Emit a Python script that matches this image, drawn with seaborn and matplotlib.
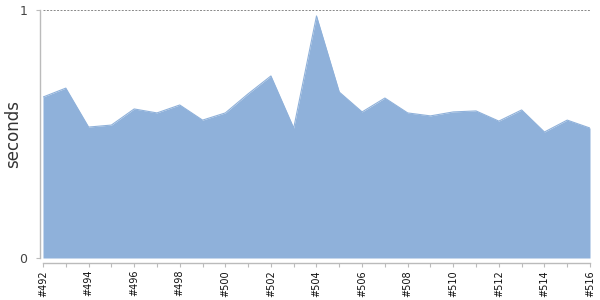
import matplotlib
matplotlib.use("Agg")
import matplotlib.pyplot as plt
import seaborn as sns
import numpy as np
import pandas as pd

builds = [492, 493, 494, 495, 496, 497, 498, 499, 500, 501, 502, 503, 504,
          505, 506, 507, 508, 509, 510, 511, 512, 513, 514, 515, 516]
seconds = [0.649, 0.685, 0.528, 0.536, 0.601, 0.585, 0.617, 0.556, 0.585,
           0.662, 0.734, 0.524, 0.976, 0.669, 0.589, 0.645, 0.585, 0.573,
           0.589, 0.593, 0.552, 0.597, 0.508, 0.556, 0.524]
y_ticks = [0, 1]

df = pd.DataFrame({"build": builds, "seconds": seconds})

sns.set_style("white")
plt.rcParams['font.family'] = ['DejaVu Sans']

fig = plt.figure(figsize=(6, 3), dpi=100)
ax = fig.add_axes([43/600, 1 - 258/300, (590 - 43)/600, (258 - 10)/300])

for s in ["top", "right"]:
    ax.spines[s].set_visible(False)
ax.spines["left"].set_position(("outward", 2.2))
ax.spines["bottom"].set_position(("outward", 3.6))
for s in ["left", "bottom"]:
    ax.spines[s].set_color("#bbbbbb")
    ax.spines[s].set_linewidth(1)

fill_color = "#8fb1da"
ax.fill_between(df["build"], 0, df["seconds"], color=fill_color, linewidth=0)
sns.lineplot(data=df, x="build", y="seconds", ax=ax, color=fill_color, linewidth=0.8)

ax.axhline(1, color="#888888", linestyle=(0, (2, 1.5)), linewidth=0.7, clip_on=False)

ax.set_xlim(builds[0], builds[-1])
ax.set_ylim(0, 1)
ax.set_xticks(builds)
ax.set_xticklabels([f"#{b}" if (b - builds[0]) % 2 == 0 else "" for b in builds])
ax.set_yticks(y_ticks)
ax.set_yticklabels([str(t) for t in y_ticks])

ax.set_xlabel("")
ax.set_ylabel("seconds", fontsize=12, color="#333333")
ax.yaxis.label.set_va("center")
ax.yaxis.set_label_coords(-0.055, 0.5)

ax.tick_params(axis="x", bottom=True, length=3, width=0.8, color="#bbbbbb", pad=2,
               labelrotation=90, labelsize=7, labelcolor="#111111")
ax.tick_params(axis="y", left=True, length=3, width=0.8, color="#bbbbbb", pad=6,
               labelsize=9, labelcolor="#444444")

fig.savefig("out.png", dpi=100)
